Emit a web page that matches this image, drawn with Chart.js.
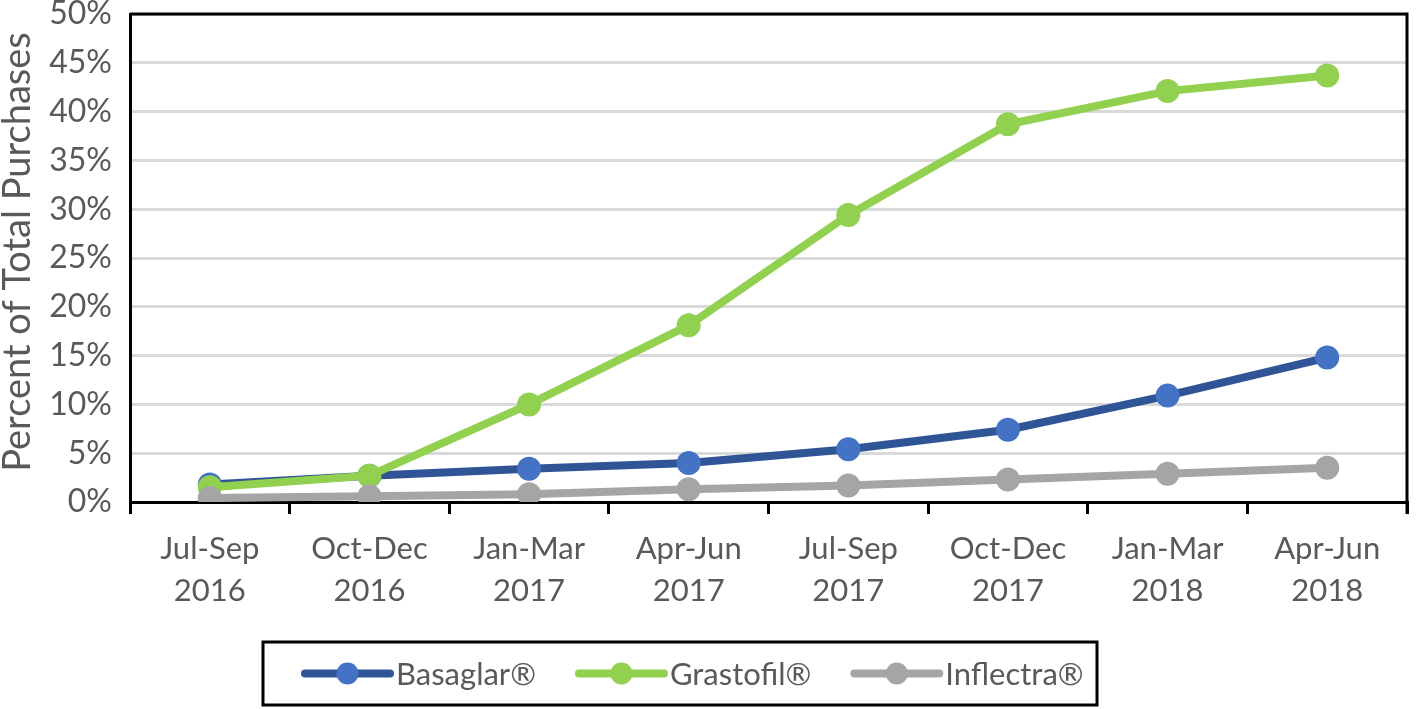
<!DOCTYPE html>
<html>
<head>
<meta charset="utf-8">
<script src="https://cdn.jsdelivr.net/npm/chart.js@4"></script>
<style>
  html, body { margin: 0; padding: 0; background: #fff; }
  #wrap { width: 1419px; height: 709px; }
</style>
</head>
<body>
<div id="wrap"><canvas id="purchaseChart" width="1419" height="709"></canvas></div>
<script>
const quarters = [['Jul-Sep', '2016'], ['Oct-Dec', '2016'], ['Jan-Mar', '2017'], ['Apr-Jun', '2017'],
                  ['Jul-Sep', '2017'], ['Oct-Dec', '2017'], ['Jan-Mar', '2018'], ['Apr-Jun', '2018']];
const basaglar = [1.8, 2.7, 3.4, 4.0, 5.4, 7.4, 10.9, 14.8];
const grastofil = [1.5, 2.7, 10.0, 18.1, 29.4, 38.7, 42.1, 43.7];
const inflectra = [0.4, 0.6, 0.8, 1.3, 1.7, 2.3, 2.9, 3.5];
const seriesNames = ['Basaglar®', 'Grastofil®', 'Inflectra®'];
const yTitle = 'Percent of Total Purchases';

const textGray = '#595959';
const fontFamily = 'Lato, "Liberation Sans", sans-serif';

// box round the plot area, the y title and the boxed legend underneath
const framePlugin = {
    id: 'frame',
    afterDatasetsDraw(chart) {
        const { ctx, chartArea: a } = chart;
        ctx.save();
        ctx.strokeStyle = '#000';
        ctx.lineWidth = 3;
        ctx.beginPath();
        ctx.moveTo(a.left, a.top);
        ctx.lineTo(a.right, a.top);
        ctx.lineTo(a.right, a.bottom + 12);
        ctx.stroke();

        ctx.translate(18, (a.top + a.bottom) / 2 - 6);
        ctx.rotate(-Math.PI / 2);
        ctx.font = '38px ' + fontFamily;
        ctx.fillStyle = textGray;
        ctx.textAlign = 'center';
        ctx.textBaseline = 'middle';
        ctx.fillText(yTitle, 0, 0);
        ctx.restore();
    },
    afterDraw(chart) {
        const ctx = chart.ctx;
        const box = { x: 263, y: 642, w: 834, h: 63 };
        ctx.save();
        ctx.strokeStyle = '#000';
        ctx.lineWidth = 3;
        ctx.strokeRect(box.x, box.y, box.w, box.h);
        ctx.font = '31px ' + fontFamily;
        ctx.textBaseline = 'middle';
        const lineLen = 85, gapText = 6, gapItem = 43;
        const widths = chart.data.datasets.map(ds => lineLen + gapText + ctx.measureText(ds.label).width);
        let x = box.x + 42;
        const cy = box.y + box.h / 2;
        chart.data.datasets.forEach((ds, i) => {
            ctx.strokeStyle = ds.borderColor;
            ctx.lineWidth = 8;
            ctx.lineCap = 'round';
            ctx.beginPath();
            ctx.moveTo(x, cy);
            ctx.lineTo(x + lineLen, cy);
            ctx.stroke();
            ctx.fillStyle = ds.pointBackgroundColor;
            ctx.beginPath();
            ctx.arc(x + lineLen / 2, cy, 11, 0, Math.PI * 2);
            ctx.fill();
            ctx.fillStyle = textGray;
            ctx.fillText(ds.label, x + lineLen + gapText, cy + 1);
            x += widths[i] + gapItem;
        });
        ctx.restore();
    }
};

function series(label, data, lineColor, pointColor, order) {
    return {
        label: label,
        data: data,
        borderColor: lineColor,
        backgroundColor: pointColor,
        pointBackgroundColor: pointColor,
        pointBorderWidth: 0,
        pointRadius: 12,
        borderWidth: 8,
        tension: 0,
        order: order
    };
}

const ctx = document.getElementById('purchaseChart').getContext('2d');
new Chart(ctx, {
    type: 'line',
    data: {
        labels: quarters,
        datasets: [
            series(seriesNames[0], basaglar, '#2F5597', '#4472C4', 3),
            series(seriesNames[1], grastofil, '#92D050', '#92D050', 2),
            series(seriesNames[2], inflectra, '#A5A5A5', '#A5A5A5', 1)
        ]
    },
    options: {
        responsive: false,
        animation: false,
        layout: { padding: { top: 14, right: 3, left: 0, bottom: 0 } },
        plugins: {
            legend: { display: false },
            tooltip: { enabled: false }
        },
        scales: {
            x: {
                offset: true,
                grid: {
                    offset: true,
                    drawOnChartArea: false,
                    drawTicks: true,
                    tickLength: 12,
                    color: '#000',
                    lineWidth: 3
                },
                border: { color: '#000', width: 3 },
                ticks: {
                    color: textGray,
                    font: { family: fontFamily, size: 31, lineHeight: 1.35 },
                    padding: 14,
                    maxRotation: 0,
                    autoSkip: false
                },
                afterFit(scale) { scale.height = 207; }
            },
            y: {
                min: 0,
                max: 50,
                grid: { color: '#D9D9D9', lineWidth: 3, drawTicks: false },
                border: { color: '#000', width: 3 },
                ticks: {
                    stepSize: 5,
                    color: textGray,
                    font: { family: fontFamily, size: 32, lineHeight: 1 },
                    padding: 18,
                    callback: v => v + '%'
                },
                afterFit(scale) {
                    scale.width = 130;
                    scale.paddingTop = 0;
                    scale.paddingBottom = 0;
                }
            }
        }
    },
    plugins: [framePlugin]
});
</script>
</body>
</html>
